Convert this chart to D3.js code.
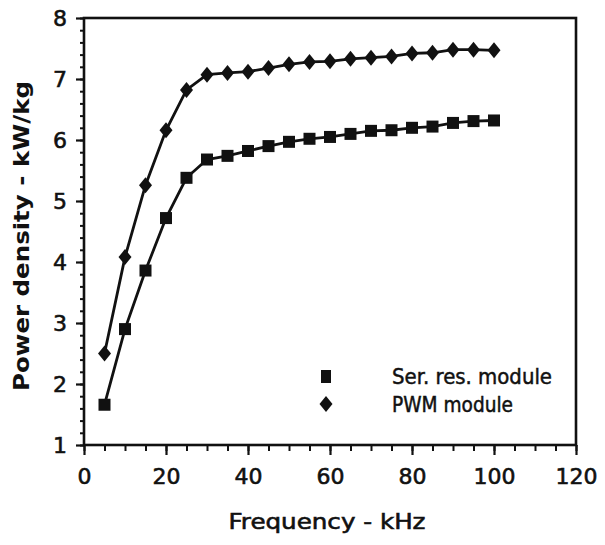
<!DOCTYPE html>
<html>
<head>
<meta charset="utf-8">
<script src="https://cdn.jsdelivr.net/npm/d3@7"></script>
<style>
  html, body { margin: 0; padding: 0; background: #fff; }
  svg { display: block; }
  text { font-family: "DejaVu Sans", sans-serif; fill: #111; }
</style>
</head>
<body>
<svg id="chart" width="605" height="545"></svg>
<script>
// ---- data ----
const frequency = [5, 10, 15, 20, 25, 30, 35, 40, 45, 50, 55, 60, 65, 70, 75, 80, 85, 90, 95, 100];
const serResModule = [1.66, 2.9, 3.86, 4.72, 5.38, 5.68, 5.74, 5.82, 5.9, 5.97, 6.02, 6.05, 6.1, 6.15, 6.16, 6.2, 6.22, 6.28, 6.31, 6.32];
const pwmModule = [2.5, 4.08, 5.26, 6.16, 6.82, 7.07, 7.1, 7.12, 7.18, 7.24, 7.28, 7.29, 7.33, 7.35, 7.37, 7.42, 7.43, 7.48, 7.48, 7.47];
const xTicks = [0, 20, 40, 60, 80, 100, 120];
const yTicks = [1, 2, 3, 4, 5, 6, 7, 8];
const seriesNames = ["Ser. res. module", "PWM module"];
const xTitle = "Frequency - kHz";
const yTitle = "Power density - kW/kg";

// ---- layout ----
const W = 605, H = 545;
const plot = { left: 84, right: 576, top: 18, bottom: 445 };
const ink = "#111";
const cond = "DejaVu Sans Condensed, DejaVu Sans, sans-serif";

const svg = d3.select("#chart");
const x = d3.scaleLinear().domain([0, 120]).range([plot.left, plot.right]);
const y = d3.scaleLinear().domain([1, 8]).range([plot.bottom, plot.top]);

// frame
svg.append("rect")
  .attr("x", plot.left).attr("y", plot.top)
  .attr("width", plot.right - plot.left).attr("height", plot.bottom - plot.top)
  .attr("fill", "none").attr("stroke", ink).attr("stroke-width", 2.6);

// x axis ticks
const xMinor = d3.range(0, 121, 5);
svg.append("g").attr("transform", `translate(0,${plot.bottom})`)
  .call(d3.axisBottom(x).tickValues(xMinor).tickSize(6).tickFormat(""))
  .call(g => g.select(".domain").remove())
  .call(g => g.selectAll("line").attr("stroke", ink).attr("stroke-width", 2));
svg.append("g").attr("transform", `translate(0,${plot.bottom})`)
  .call(d3.axisBottom(x).tickValues(xTicks).tickSize(10).tickPadding(13).tickFormat(d3.format("d")))
  .call(g => g.select(".domain").remove())
  .call(g => g.selectAll("line").attr("stroke", ink).attr("stroke-width", 2.2))
  .call(g => g.selectAll("text").attr("font-size", 22).attr("fill", ink)
    .attr("stroke", ink).attr("stroke-width", 0.6).attr("font-family", cond));

// y axis ticks
const yMinor = d3.range(1, 8.001, 0.2);
svg.append("g").attr("transform", `translate(${plot.left},0)`)
  .call(d3.axisLeft(y).tickValues(yMinor).tickSize(4).tickFormat(""))
  .call(g => g.select(".domain").remove())
  .call(g => g.selectAll("line").attr("stroke", ink).attr("stroke-width", 2));
svg.append("g").attr("transform", `translate(${plot.left},0)`)
  .call(d3.axisLeft(y).tickValues(yTicks).tickSize(8).tickPadding(9).tickFormat(d3.format("d")))
  .call(g => g.select(".domain").remove())
  .call(g => g.selectAll("line").attr("stroke", ink).attr("stroke-width", 2.2))
  .call(g => g.selectAll("text").attr("font-size", 22).attr("fill", ink)
    .attr("stroke", ink).attr("stroke-width", 0.6).attr("font-family", cond));

// lines
const line = d3.line().x(d => x(d[0])).y(d => y(d[1]));
const ser = frequency.map((f, i) => [f, serResModule[i]]);
const pwm = frequency.map((f, i) => [f, pwmModule[i]]);
[ser, pwm].forEach(data => {
  svg.append("path").datum(data).attr("d", line)
    .attr("fill", "none").attr("stroke", ink).attr("stroke-width", 2.8);
});

// markers
const sq = 12;
svg.append("g").selectAll("rect").data(ser).join("rect")
  .attr("x", d => x(d[0]) - sq / 2).attr("y", d => y(d[1]) - sq / 2)
  .attr("width", sq).attr("height", sq).attr("fill", ink);
const diamond = (cx, cy) => `M${cx},${cy - 8}L${cx + 6.5},${cy}L${cx},${cy + 8}L${cx - 6.5},${cy}Z`;
svg.append("g").selectAll("path").data(pwm).join("path")
  .attr("d", d => diamond(x(d[0]), y(d[1]))).attr("fill", ink);

// legend
const lgX = 326, lgY = [376, 404];
svg.append("rect").attr("x", lgX - 5).attr("y", lgY[0] - 6).attr("width", 10).attr("height", 13).attr("fill", ink);
svg.append("path").attr("d", diamond(lgX, lgY[1])).attr("fill", ink);
svg.append("text").attr("x", 392).attr("y", lgY[0] + 8)
  .attr("font-size", 21).attr("textLength", 160).attr("lengthAdjust", "spacingAndGlyphs")
  .attr("stroke", ink).attr("stroke-width", 0.5).attr("font-family", cond)
  .text(seriesNames[0]);
svg.append("text").attr("x", 392).attr("y", lgY[1] + 8)
  .attr("font-size", 21).attr("textLength", 121).attr("lengthAdjust", "spacingAndGlyphs")
  .attr("stroke", ink).attr("stroke-width", 0.5).attr("font-family", cond)
  .text(seriesNames[1]);

// axis titles
svg.append("text").attr("x", (plot.left + plot.right) / 2 - 3).attr("y", 529)
  .attr("text-anchor", "middle").attr("font-size", 21)
  .attr("textLength", 197).attr("lengthAdjust", "spacingAndGlyphs")
  .attr("stroke", ink).attr("stroke-width", 0.6).attr("font-family", cond)
  .text(xTitle);
svg.append("text").attr("transform", `translate(29,${236}) rotate(-90)`)
  .attr("text-anchor", "middle").attr("font-size", 21).attr("font-weight", "bold")
  .attr("textLength", 310).attr("lengthAdjust", "spacingAndGlyphs")
  .attr("font-family", cond)
  .text(yTitle);
</script>
</body>
</html>
